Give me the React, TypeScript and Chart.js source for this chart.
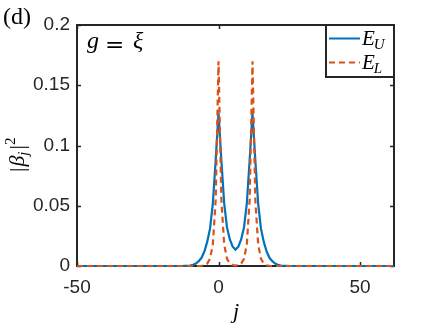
import React, { useEffect, useRef } from 'react';
import { Chart, registerables } from 'chart.js';

Chart.register(...registerables);

// lattice site index j (flat zero outside the shown window)
const J = [-50, -13, -12, -11, -10, -9, -8, -7, -6, -5, -4, -3, -2, -1, 0, 1, 2, 3, 4, 5, 6, 7, 8, 9, 10, 11, 12, 13, 14, 15, 16, 17, 18, 19, 20, 21, 22, 23, 24, 25, 62];

// |beta_j|^2 for E_U (solid blue)
const EU = [0, 0, 0.0001, 0.0002, 0.0004, 0.001, 0.002, 0.004, 0.0068, 0.012, 0.02, 0.031, 0.052, 0.088, 0.127, 0.088, 0.052, 0.032, 0.022, 0.016, 0.0136, 0.016, 0.022, 0.032, 0.052, 0.088, 0.127, 0.088, 0.052, 0.031, 0.02, 0.012, 0.0068, 0.004, 0.002, 0.001, 0.0004, 0.0002, 0.0001, 0, 0];

// |beta_j|^2 for E_L (dashed orange)
const EL = [0, 0, 0, 0, 0, 0, 0, 0, 0.0002, 0.0006, 0.002, 0.006, 0.018, 0.055, 0.17, 0.055, 0.018, 0.006, 0.002, 0.0008, 0.0004, 0.0008, 0.002, 0.006, 0.018, 0.055, 0.17, 0.055, 0.018, 0.006, 0.002, 0.0006, 0.0002, 0, 0, 0, 0, 0, 0, 0, 0];

const X_TICKS = [-50, 0, 50];
const X_TICK_LABELS = ['-50', '0', '50'];
const Y_TICKS = [0, 0.05, 0.1, 0.15, 0.2];
const Y_TICK_LABELS = ['0', '0.05', '0.1', '0.15', '0.2'];
const X_MIN = -50;
const X_MAX = 62;
const Y_MIN = 0;
const Y_MAX = 0.2;

const SERIES_LABELS = ['E', 'E'];
const SERIES_SUBS = ['U', 'L'];

const BLUE = '#0072BD';
const ORANGE = '#D95319';
const AXIS = '#262626';

const decorPlugin = {
  id: 'decor',
  beforeDatasetsDraw(chart: any) {
    const { ctx, chartArea } = chart;
    const { left, right, top, bottom } = chartArea;
    const xs = chart.scales.x;
    const ys = chart.scales.y;
    ctx.save();
    ctx.strokeStyle = AXIS;
    ctx.lineWidth = 2;
    ctx.strokeRect(left, top, right - left, bottom - top);
    ctx.lineWidth = 1.5;
    const tl = 4;
    X_TICKS.forEach((v) => {
      const px = Math.round(xs.getPixelForValue(v)) + 0.5;
      ctx.beginPath();
      ctx.moveTo(px, bottom);
      ctx.lineTo(px, bottom - tl);
      ctx.moveTo(px, top);
      ctx.lineTo(px, top + tl);
      ctx.stroke();
    });
    Y_TICKS.forEach((v) => {
      const py = Math.round(ys.getPixelForValue(v)) + 0.5;
      ctx.beginPath();
      ctx.moveTo(left, py);
      ctx.lineTo(left + tl, py);
      ctx.moveTo(right, py);
      ctx.lineTo(right - tl, py);
      ctx.stroke();
    });
    ctx.restore();
  },
  afterDatasetsDraw(chart: any) {
    const { ctx, chartArea } = chart;
    const { right, top } = chartArea;
    ctx.save();
    // legend box
    const lw = 68;
    const lh = 52;
    const lx = right - lw;
    const ly = top;
    ctx.fillStyle = '#ffffff';
    ctx.fillRect(lx, ly, lw, lh);
    ctx.strokeStyle = AXIS;
    ctx.lineWidth = 2;
    ctx.strokeRect(lx, ly, lw, lh);
    const colors = [BLUE, ORANGE];
    const dashes = [[], [6, 4]];
    const rowY = [ly + 13.5, ly + 37.5];
    for (let i = 0; i < 2; i++) {
      ctx.strokeStyle = colors[i];
      ctx.lineWidth = 2;
      ctx.setLineDash(dashes[i]);
      ctx.beginPath();
      ctx.moveTo(lx + 3, rowY[i]);
      ctx.lineTo(lx + 34, rowY[i]);
      ctx.stroke();
      ctx.setLineDash([]);
      ctx.fillStyle = '#000000';
      ctx.textBaseline = 'alphabetic';
      ctx.textAlign = 'left';
      ctx.font = 'italic 21px "Liberation Serif"';
      ctx.fillText(SERIES_LABELS[i], lx + 36, rowY[i] + 6);
      const ew = ctx.measureText(SERIES_LABELS[i]).width;
      ctx.font = 'italic 15px "Liberation Serif"';
      ctx.fillText(SERIES_SUBS[i], lx + 36 + ew - 1, rowY[i] + 10);
    }
    // annotation g = xi
    ctx.fillStyle = '#000000';
    ctx.font = 'italic 24px "Liberation Serif"';
    ctx.fillText('g', 87, 48);
    ctx.font = '23px "DejaVu Serif"';
    ctx.fillText('=', 105, 52);
    ctx.font = 'italic 24px "Liberation Serif"';
    ctx.fillText('ξ', 133, 48);
    // panel label
    ctx.font = '24px "Liberation Serif"';
    ctx.fillText('(d)', 3, 24);
    // x label
    ctx.font = 'italic 22px "Liberation Serif"';
    ctx.textAlign = 'center';
    ctx.fillText('j', 236, 318);
    // y label rotated
    ctx.translate(24, 148);
    ctx.rotate(-Math.PI / 2);
    ctx.textAlign = 'left';
    let x = -24;
    ctx.font = '22px "Liberation Serif"';
    ctx.fillText('|', x, 0);
    x += ctx.measureText('|').width + 1;
    ctx.font = 'italic 22px "Liberation Serif"';
    ctx.fillText('β', x, 0);
    x += ctx.measureText('β').width;
    ctx.font = 'italic 15px "Liberation Serif"';
    ctx.fillText('j', x, 4);
    x += ctx.measureText('j').width + 2;
    ctx.font = '22px "Liberation Serif"';
    ctx.fillText('|', x, 0);
    x += ctx.measureText('|').width;
    ctx.font = '15px "Liberation Serif"';
    ctx.fillText('2', x, -9);
    ctx.restore();
  },
};

export default function App() {
  const canvasRef = useRef<HTMLCanvasElement | null>(null);

  useEffect(() => {
    const canvas = canvasRef.current;
    if (!canvas) return;
    const tickFont = { family: 'Liberation Sans', size: 19 };
    const chart = new Chart(canvas, {
      type: 'line',
      data: {
        datasets: [
          {
            label: 'E_U',
            data: J.map((j, i) => ({ x: j, y: EU[i] })),
            borderColor: BLUE,
            borderWidth: 2.2,
            pointRadius: 0,
            tension: 0,
            fill: false,
            order: 2,
            clip: 4,
          },
          {
            label: 'E_L',
            data: J.map((j, i) => ({ x: j, y: EL[i] })),
            borderColor: ORANGE,
            borderWidth: 2.2,
            borderDash: [6, 4],
            pointRadius: 0,
            tension: 0,
            fill: false,
            order: 1,
            clip: 4,
          },
        ],
      },
      options: {
        responsive: false,
        animation: false,
        devicePixelRatio: 1,
        layout: { padding: { left: 0, top: 25, right: 42, bottom: 21 } },
        plugins: { legend: { display: false }, tooltip: { enabled: false }, title: { display: false } },
        scales: {
          x: {
            type: 'linear',
            min: X_MIN,
            max: X_MAX,
            afterBuildTicks: (s: any) => {
              s.ticks = X_TICKS.map((v) => ({ value: v }));
            },
            afterFit: (s: any) => {
              s.height = 40;
            },
            grid: { display: false, drawTicks: false },
            border: { display: false },
            ticks: {
              font: tickFont,
              color: AXIS,
              padding: 10,
              maxRotation: 0,
              autoSkip: false,
              callback: (v: any) => {
                const k = X_TICKS.indexOf(Number(v));
                return k >= 0 ? X_TICK_LABELS[k] : '';
              },
            },
          },
          y: {
            type: 'linear',
            min: Y_MIN,
            max: Y_MAX,
            afterBuildTicks: (s: any) => {
              s.ticks = Y_TICKS.map((v) => ({ value: v }));
            },
            afterFit: (s: any) => {
              s.width = 77;
            },
            grid: { display: false, drawTicks: false },
            border: { display: false },
            ticks: {
              font: tickFont,
              color: AXIS,
              padding: 7,
              autoSkip: false,
              callback: (v: any) => {
                const k = Y_TICKS.findIndex((t) => Math.abs(t - Number(v)) < 1e-9);
                return k >= 0 ? Y_TICK_LABELS[k] : '';
              },
            },
          },
        },
      },
      plugins: [decorPlugin],
    });
    return () => chart.destroy();
  }, []);

  return (
    <div style={{ position: 'absolute', left: 0, top: 0, width: 436, height: 327, background: '#ffffff' }}>
      <canvas ref={canvasRef} width={436} height={327} style={{ width: 436, height: 327, display: 'block' }} />
    </div>
  );
}
